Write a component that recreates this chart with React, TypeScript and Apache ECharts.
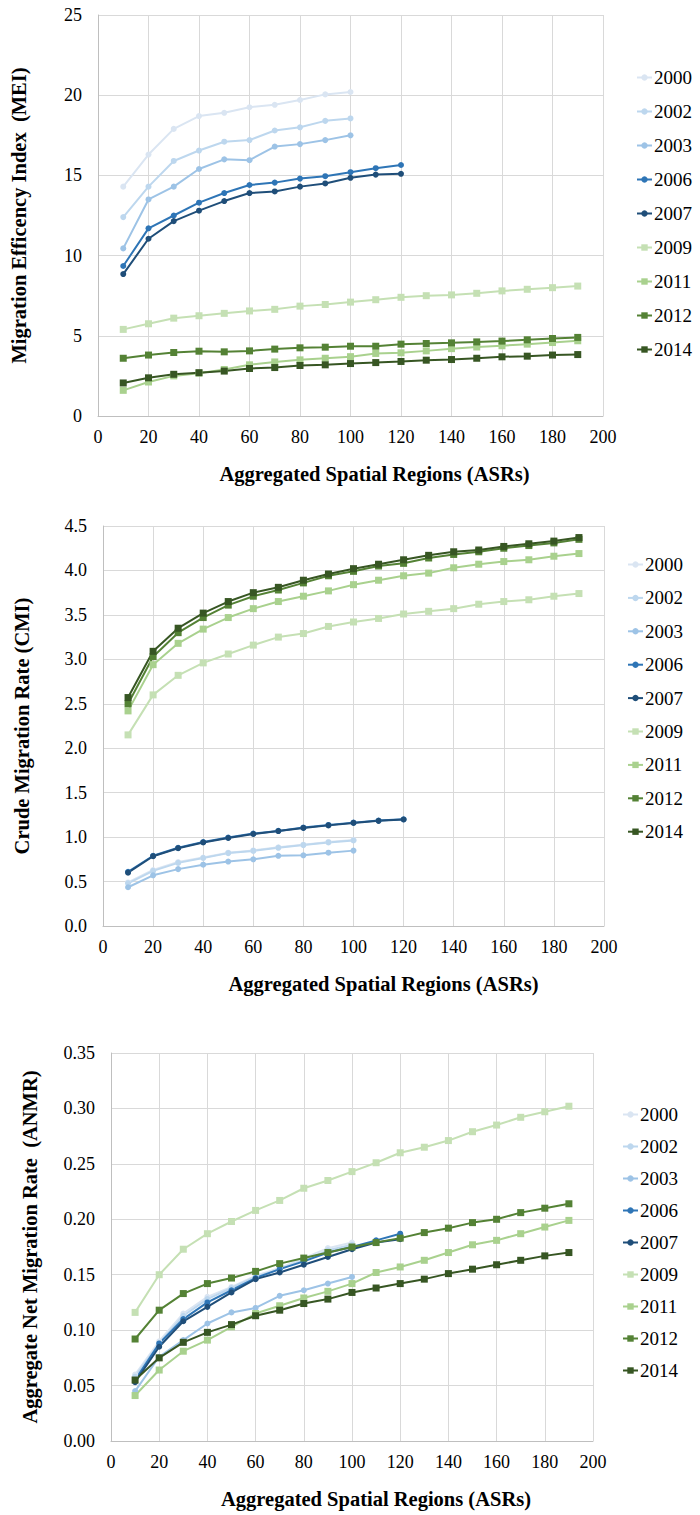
import React, { useEffect, useRef } from "react";
import * as echarts from "echarts";

const YEARS = ["2000", "2002", "2003", "2006", "2007", "2009", "2011", "2012", "2014"];
const COLORS = ["#dae5f2", "#bdd7ee", "#9dc3e6", "#2e75b6", "#1f4e79", "#c5e0b4", "#a9d18e", "#548235", "#375623"];

const X100 = [10, 20, 30, 40, 50, 60, 70, 80, 90, 100];
const X120 = [10, 20, 30, 40, 50, 60, 70, 80, 90, 100, 110, 120];
const X190 = [10, 20, 30, 40, 50, 60, 70, 80, 90, 100, 110, 120, 130, 140, 150, 160, 170, 180, 190];

// Chart 1: Migration Efficiency Index (MEI)
const MEI_2000 = [14.3, 16.3, 17.9, 18.7, 18.9, 19.25, 19.4, 19.7, 20.05, 20.2];
const MEI_2002 = [12.4, 14.3, 15.9, 16.55, 17.1, 17.2, 17.8, 18.0, 18.4, 18.55];
const MEI_2003 = [10.45, 13.5, 14.3, 15.4, 16.0, 15.95, 16.8, 16.95, 17.2, 17.5];
const MEI_2006 = [9.35, 11.7, 12.5, 13.3, 13.9, 14.4, 14.55, 14.8, 14.95, 15.2, 15.45, 15.65];
const MEI_2007 = [8.85, 11.05, 12.15, 12.8, 13.4, 13.9, 14.0, 14.3, 14.5, 14.85, 15.05, 15.1];
const MEI_2009 = [5.4, 5.75, 6.1, 6.25, 6.4, 6.55, 6.65, 6.85, 6.95, 7.1, 7.25, 7.4, 7.5, 7.55, 7.65, 7.8, 7.9, 8.0, 8.1];
const MEI_2011 = [1.6, 2.12, 2.5, 2.67, 2.9, 3.19, 3.37, 3.5, 3.6, 3.7, 3.9, 3.94, 4.06, 4.2, 4.3, 4.38, 4.48, 4.58, 4.69];
const MEI_2012 = [3.6, 3.8, 3.96, 4.04, 4.0, 4.06, 4.17, 4.25, 4.29, 4.35, 4.35, 4.48, 4.52, 4.56, 4.62, 4.67, 4.75, 4.83, 4.9];
const MEI_2014 = [2.06, 2.38, 2.6, 2.7, 2.8, 2.96, 3.02, 3.15, 3.19, 3.27, 3.33, 3.4, 3.48, 3.52, 3.6, 3.69, 3.73, 3.8, 3.83];

// Chart 2: Crude Migration Rate (CMI)
const CMI_2000 = [0.49, 0.63, 0.72, 0.77, 0.825, 0.85, 0.886, 0.915, 0.946, 0.968];
const CMI_2002 = [0.48, 0.62, 0.71, 0.765, 0.82, 0.845, 0.88, 0.91, 0.94, 0.962];
const CMI_2003 = [0.436, 0.57, 0.64, 0.69, 0.725, 0.75, 0.79, 0.795, 0.825, 0.848];
const CMI_2006 = [0.61, 0.79, 0.88, 0.945, 0.995, 1.04, 1.07, 1.107, 1.137, 1.163, 1.186, 1.2];
const CMI_2007 = [0.6, 0.785, 0.875, 0.94, 0.99, 1.035, 1.068, 1.103, 1.132, 1.16, 1.183, 1.198];
const CMI_2009 = [2.15, 2.6, 2.82, 2.96, 3.06, 3.16, 3.25, 3.29, 3.37, 3.42, 3.46, 3.51, 3.54, 3.57, 3.62, 3.65, 3.67, 3.71, 3.74];
const CMI_2011 = [2.42, 2.94, 3.18, 3.34, 3.47, 3.57, 3.65, 3.71, 3.77, 3.84, 3.89, 3.94, 3.97, 4.03, 4.07, 4.1, 4.12, 4.16, 4.19];
const CMI_2012 = [2.5, 3.03, 3.3, 3.47, 3.61, 3.71, 3.78, 3.86, 3.94, 3.99, 4.05, 4.08, 4.14, 4.18, 4.21, 4.25, 4.28, 4.31, 4.35];
const CMI_2014 = [2.57, 3.09, 3.35, 3.52, 3.65, 3.75, 3.81, 3.89, 3.96, 4.02, 4.07, 4.12, 4.17, 4.21, 4.23, 4.27, 4.3, 4.33, 4.37];

// Chart 3: Aggregate Net Migration Rate (ANMR)
const ANMR_2000 = [0.06, 0.09, 0.115, 0.13, 0.139, 0.149, 0.156, 0.165, 0.174, 0.179];
const ANMR_2002 = [0.058, 0.088, 0.113, 0.128, 0.138, 0.148, 0.155, 0.163, 0.172, 0.177];
const ANMR_2003 = [0.045, 0.076, 0.091, 0.106, 0.116, 0.12, 0.131, 0.136, 0.142, 0.148];
const ANMR_2006 = [0.055, 0.088, 0.11, 0.125, 0.136, 0.147, 0.155, 0.162, 0.17, 0.175, 0.181, 0.187];
const ANMR_2007 = [0.053, 0.085, 0.108, 0.121, 0.134, 0.146, 0.152, 0.159, 0.166, 0.173, 0.179, 0.182];
const ANMR_2009 = [0.116, 0.15, 0.173, 0.187, 0.198, 0.208, 0.217, 0.228, 0.235, 0.243, 0.251, 0.26, 0.265, 0.271, 0.279, 0.285, 0.292, 0.297, 0.302];
const ANMR_2011 = [0.041, 0.064, 0.081, 0.091, 0.103, 0.115, 0.122, 0.129, 0.135, 0.142, 0.152, 0.157, 0.163, 0.17, 0.177, 0.181, 0.187, 0.193, 0.199];
const ANMR_2012 = [0.092, 0.118, 0.133, 0.142, 0.147, 0.153, 0.16, 0.165, 0.17, 0.175, 0.179, 0.183, 0.188, 0.192, 0.197, 0.2, 0.206, 0.21, 0.214];
const ANMR_2014 = [0.055, 0.075, 0.089, 0.098, 0.105, 0.113, 0.118, 0.124, 0.128, 0.134, 0.138, 0.142, 0.146, 0.151, 0.155, 0.159, 0.163, 0.167, 0.17];

const X_TICKS_MAX = 200;
const X_INTERVAL = 20;

const FONT = "'Liberation Serif', 'Times New Roman', serif";

const CHART_DATA = [
  [MEI_2000, MEI_2002, MEI_2003, MEI_2006, MEI_2007, MEI_2009, MEI_2011, MEI_2012, MEI_2014],
  [CMI_2000, CMI_2002, CMI_2003, CMI_2006, CMI_2007, CMI_2009, CMI_2011, CMI_2012, CMI_2014],
  [ANMR_2000, ANMR_2002, ANMR_2003, ANMR_2006, ANMR_2007, ANMR_2009, ANMR_2011, ANMR_2012, ANMR_2014],
];
const Y_TITLES = ["Migration Efficency Index  (MEI)", "Crude Migration Rate (CMI)", "Aggregate Net Migration Rate  (ANMR)"];
const Y_MAX = [25, 4.5, 0.35];
const Y_INT = [5, 0.5, 0.05];
const Y_DEC = [0, 1, 2];

export default function App() {
  const ref = useRef<HTMLDivElement>(null);
  useEffect(() => {
    if (!ref.current) return;
    const chart = echarts.init(ref.current, undefined, { renderer: "svg" });
    const grids = [
      { left: 97, top: 15, width: 506, height: 401 },
      { left: 103, top: 526, width: 501, height: 400 },
      { left: 111, top: 1053, width: 482, height: 388 },
    ];
    const legendPos = [
      { left: 631, top: 63, gap: 15 },
      { left: 622, top: 550, gap: 14.4 },
      { left: 617, top: 1100, gap: 13 },
    ];
    const yGap = [69, 71, 71];
    const xTitleShift = [48, 60, 48];
    const gridColor = "#d9d9d9";
    const xAxis = grids.map((_, i) => ({
      type: "value",
      gridIndex: i,
      min: 0,
      max: X_TICKS_MAX,
      interval: X_INTERVAL,
      name: "Aggregated Spatial Regions (ASRs)",
      nameLocation: "middle",
      nameGap: 47,
      nameTextStyle: {
        fontFamily: FONT,
        fontWeight: "bold",
        fontSize: 20.5,
        color: "#000",
        padding: [0, 0, 0, xTitleShift[i]],
      },
      axisLine: { show: true, lineStyle: { color: "#bfbfbf", width: 1 } },
      axisTick: { show: false },
      axisLabel: { fontFamily: FONT, fontSize: 18, color: "#000", margin: 12 },
      splitLine: { show: true, lineStyle: { color: gridColor, width: 1 } },
    }));
    const yAxis = grids.map((_, i) => ({
      type: "value",
      gridIndex: i,
      min: 0,
      max: Y_MAX[i],
      interval: Y_INT[i],
      name: Y_TITLES[i],
      nameLocation: "middle",
      nameGap: yGap[i],
      nameTextStyle: { fontFamily: FONT, fontWeight: "bold", fontSize: 20.5, color: "#000" },
      axisLine: { show: true, lineStyle: { color: "#bfbfbf", width: 1 } },
      axisTick: { show: false },
      axisLabel: {
        fontFamily: FONT,
        fontSize: 18,
        color: "#000",
        margin: 16,
        formatter: (v: number) => v.toFixed(Y_DEC[i]),
      },
      splitLine: { show: true, lineStyle: { color: gridColor, width: 1 } },
    }));
    const series: any[] = [];
    CHART_DATA.forEach((arrs, ci) => {
      arrs.forEach((vals, si) => {
        const isBlue = si < 5;
        const xs = isBlue ? (vals.length === 10 ? X100 : X120) : X190;
        series.push({
          type: "line",
          name: YEARS[si],
          xAxisIndex: ci,
          yAxisIndex: ci,
          data: vals.map((v, k) => [xs[k], v]),
          symbol: isBlue ? "circle" : "rect",
          symbolSize: isBlue ? 6 : 7,
          showSymbol: true,
          itemStyle: { color: COLORS[si] },
          lineStyle: { color: COLORS[si], width: 2 },
          emphasis: { disabled: true },
        });
      });
    });
    const legend = legendPos.map((p) => ({
      orient: "vertical",
      left: p.left,
      top: p.top,
      itemGap: p.gap,
      itemWidth: 15,
      itemHeight: 8,
      data: YEARS,
      selectedMode: false,
      textStyle: { fontFamily: FONT, fontSize: 19, color: "#000", padding: [0, 0, 0, -3] },
    }));
    chart.setOption({
      animation: false,
      backgroundColor: "#fff",
      grid: grids,
      xAxis,
      yAxis,
      legend,
      series,
    });
    return () => chart.dispose();
  }, []);
  return (
    <div
      ref={ref}
      style={{ position: "absolute", left: 0, top: 0, width: 700, height: 1515, background: "#fff" }}
    />
  );
}
